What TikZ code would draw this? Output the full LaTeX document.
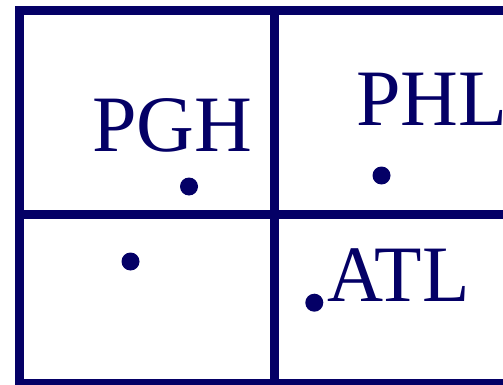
\documentclass[tikz,border=0pt]{standalone}
\usepackage{fontspec}
\setmainfont{Liberation Serif}
\definecolor{navy}{RGB}{4,0,102}
\begin{document}
\begin{tikzpicture}[x=1pt,y=-1pt,
  gridline/.style={draw=navy,line width=9pt},
  city/.style={circle,fill=navy,inner sep=0pt,minimum size=18pt},
  label/.style={text=navy,inner sep=0pt,anchor=base west,font=\fontsize{80}{80}\selectfont}]
\useasboundingbox (0,0) rectangle (503,385);
\draw[gridline] (19.5,10.5) rectangle (560,383);
\draw[gridline] (274.5,10.5) -- (274.5,383);
\draw[gridline] (19.5,214) -- (560,214);
\node[city] (pgh) at (189,186.5) {};
\node[city] (phl) at (381.5,175.5) {};
\node[city] (d3) at (130.5,261.5) {};
\node[city] (atl) at (314.3,302.7) {};
\node[label] (tpgh) at (92,151) {PGH};
\node[label] (tphl) at (356,125) {PHL};
\node[label,xscale=0.97] (tatl) at (327,301) {ATL};
\end{tikzpicture}
\end{document}
